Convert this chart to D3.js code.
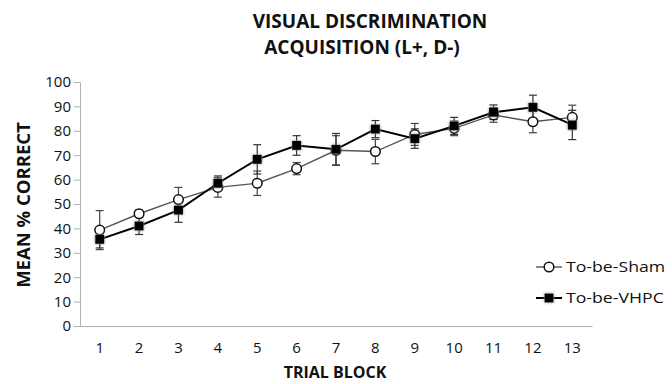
<!DOCTYPE html>
<html>
<head>
<meta charset="utf-8">
<script src="https://cdn.jsdelivr.net/npm/d3@7"></script>
<style>
  html, body { margin: 0; padding: 0; background: #fff; }
  svg { display: block; }
</style>
</head>
<body>
<svg id="chart" width="672" height="384"></svg>
<script>
// Trial blocks on the x axis
const blocks = ["1","2","3","4","5","6","7","8","9","10","11","12","13"];
// Mean % correct per block
const shamMean = [39.3, 46, 51.8, 56.8, 58.5, 64.5, 72, 71.5, 78.5, 81, 86.5, 83.7, 85.5];
const vhpcMean = [35.5, 41, 47.5, 58.5, 68.3, 74, 72.4, 80.7, 76.8, 82, 87.6, 89.6, 82.4];
// Error bar half-widths
const shamErr = [8, 1.5, 5, 4, 5, 2.5, 6, 5, 4.5, 3, 3, 4.5, 5];
const vhpcErr = [3.5, 3.5, 5, 3, 6, 4, 6.5, 3.5, 4, 3.5, 3, 5, 6];
const yTicks = [0, 10, 20, 30, 40, 50, 60, 70, 80, 90, 100];
const seriesNames = ["To-be-Sham", "To-be-VHPC"];

const svg = d3.select("#chart");
const font = "'Open Sans', 'Liberation Sans', sans-serif";

const x = d3.scaleBand().domain(blocks).range([80, 592]);
const y = d3.scaleLinear().domain([0, 100]).range([326, 82]);

// Soft shadow for the square markers
const defs = svg.append("defs");
const glow = defs.append("filter").attr("id", "glow")
  .attr("x", "-80%").attr("y", "-80%").attr("width", "260%").attr("height", "260%");
glow.append("feGaussianBlur").attr("in", "SourceAlpha").attr("stdDeviation", 1.8).attr("result", "b");
glow.append("feFlood").attr("flood-color", "#888").attr("result", "c");
glow.append("feComposite").attr("in", "c").attr("in2", "b").attr("operator", "in").attr("result", "s");
const m = glow.append("feMerge");
m.append("feMergeNode").attr("in", "s");
m.append("feMergeNode").attr("in", "SourceGraphic");

// Y axis
const yAxis = svg.append("g")
  .attr("transform", "translate(80,0)")
  .call(d3.axisLeft(y).tickValues(yTicks).tickSize(6).tickPadding(3));
yAxis.select(".domain").attr("stroke", "#b0b0b0");
yAxis.selectAll(".tick line").attr("stroke", "#b0b0b0");
yAxis.selectAll(".tick text").attr("font-family", font).attr("font-size", 15).attr("fill", "#111");

// X axis
const xAxis = svg.append("g")
  .attr("transform", "translate(0,326)")
  .call(d3.axisBottom(x).tickSize(0).tickPadding(16).tickSizeOuter(0));
xAxis.select(".domain").attr("stroke", "#b0b0b0");
xAxis.selectAll(".tick text").attr("font-family", font).attr("font-size", 15).attr("fill", "#111");

const cx = d => x(d) + x.bandwidth() / 2;

function errorBars(means, errs, color) {
  const g = svg.append("g").attr("stroke", color).attr("stroke-width", 1.2);
  blocks.forEach((b, i) => {
    const xc = cx(b), lo = y(means[i] - errs[i]), hi = y(means[i] + errs[i]);
    g.append("line").attr("x1", xc).attr("x2", xc).attr("y1", lo).attr("y2", hi);
    g.append("line").attr("x1", xc - 4).attr("x2", xc + 4).attr("y1", lo).attr("y2", lo);
    g.append("line").attr("x1", xc - 4).attr("x2", xc + 4).attr("y1", hi).attr("y2", hi);
  });
}
errorBars(shamMean, shamErr, "#444");
errorBars(vhpcMean, vhpcErr, "#333");

const line = d3.line().x((d, i) => cx(blocks[i])).y(d => y(d));

svg.append("path").datum(shamMean).attr("d", line)
  .attr("fill", "none").attr("stroke", "#555").attr("stroke-width", 1.4);
svg.append("path").datum(vhpcMean).attr("d", line)
  .attr("fill", "none").attr("stroke", "#000").attr("stroke-width", 2);

svg.append("g").selectAll("circle").data(shamMean).join("circle")
  .attr("cx", (d, i) => cx(blocks[i])).attr("cy", d => y(d)).attr("r", 4.8)
  .attr("fill", "#fff").attr("stroke", "#111").attr("stroke-width", 1.5);

svg.append("g").attr("filter", "url(#glow)").selectAll("rect").data(vhpcMean).join("rect")
  .attr("x", (d, i) => cx(blocks[i]) - 4.5).attr("y", d => y(d) - 4.5)
  .attr("width", 9).attr("height", 9).attr("fill", "#000");

// Legend
const leg = svg.append("g");
leg.append("line").attr("x1", 536).attr("x2", 562).attr("y1", 267).attr("y2", 267)
  .attr("stroke", "#555").attr("stroke-width", 1.4);
leg.append("circle").attr("cx", 549).attr("cy", 267).attr("r", 4.8)
  .attr("fill", "#fff").attr("stroke", "#111").attr("stroke-width", 1.5);
leg.append("line").attr("x1", 536).attr("x2", 562).attr("y1", 298).attr("y2", 298)
  .attr("stroke", "#000").attr("stroke-width", 2);
leg.append("rect").attr("x", 544.5).attr("y", 293.5).attr("width", 9).attr("height", 9)
  .attr("fill", "#000").attr("filter", "url(#glow)");
leg.selectAll("text").data(seriesNames).join("text")
  .attr("transform", (d, i) => `translate(566,${i === 0 ? 267 : 298}) scale(1.22,1)`)
  .attr("dy", "0.35em")
  .attr("font-family", font).attr("font-size", 14.5).attr("fill", "#111")
  .text(d => d);

// Titles
const title = svg.append("text").attr("text-anchor", "middle")
  .attr("font-family", font).attr("font-weight", "bold").attr("font-size", 19).attr("fill", "#111");
title.append("tspan").attr("x", 370).attr("y", 28).text("VISUAL DISCRIMINATION");
title.append("tspan").attr("x", 362).attr("y", 54).text("ACQUISITION (L+, D-)");

svg.append("text").attr("x", 335).attr("y", 378).attr("text-anchor", "middle")
  .attr("font-family", font).attr("font-weight", "bold").attr("font-size", 16).attr("fill", "#111")
  .text("TRIAL BLOCK");

svg.append("text").attr("transform", "translate(30,205) rotate(-90)").attr("text-anchor", "middle")
  .attr("font-family", font).attr("font-weight", "bold").attr("font-size", 18.5).attr("fill", "#111")
  .text("MEAN % CORRECT");
</script>
</body>
</html>
